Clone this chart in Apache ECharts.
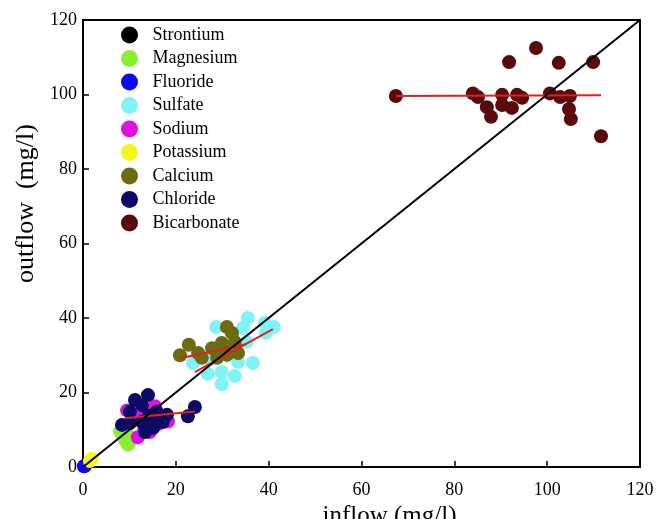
<!DOCTYPE html>
<html>
<head>
<meta charset="utf-8">
<script src="https://cdn.jsdelivr.net/npm/echarts@6/dist/echarts.min.js"></script>
<style>
  html, body { margin: 0; padding: 0; background: #fff; }
  #chart { width: 656px; height: 519px; }
</style>
</head>
<body>
<div id="chart"></div>
<script>
// values, [inflow, outflow] in mg/l
let names = ['Strontium', 'Magnesium', 'Fluoride', 'Sulfate', 'Sodium', 'Potassium', 'Calcium', 'Chloride', 'Bicarbonate']
let colors = ['#000000', '#88f030', '#0a0af5', '#80f4f4', '#e010e0', '#f5f520', '#6b6b12', '#0c0a66', '#5a0a0a']

let strontium = [[0.4, 0.3]]
let magnesium = [[8, 9.5], [8.6, 8.4], [9.2, 7], [9.7, 6], [10.5, 7.4], [9.5, 9]]
let fluoride = [[0.2, 0.2]]
let sulfate = [[28.7, 37.6], [35.5, 40], [39.2, 38.7], [41.1, 37.6], [34.5, 37.3], [35.3, 33.6], [39.4, 36],
  [23.7, 27.9], [26.9, 25], [29.9, 25.5], [32.7, 24.4], [36.6, 27.9], [29.9, 22.2], [33.4, 28.2], [27.5, 29]]
let sodium = [[9.5, 15.2], [11.8, 8], [13.2, 10], [14.4, 9.4], [16.2, 11.5], [18.3, 12.2], [12.2, 14.2], [15.5, 16.3]]
let potassium = [[1.5, 1.6], [1.9, 2.2]]
let calcium = [[20.9, 30], [22.8, 32.8], [24.8, 30.6], [27.8, 31.9], [31, 37.6], [32.1, 36], [32.7, 33.6],
  [25.6, 29.3], [28.9, 29.3], [31, 30.1], [33.4, 30.6], [29.9, 33.3], [30.5, 31.5]]
let chloride = [[14, 19.3], [11.2, 18], [12.7, 16.6], [10.1, 14.8], [15.9, 14.8], [18.1, 14], [24.1, 16.1],
  [22.6, 13.6], [12.7, 12.1], [15.1, 10.5], [17.2, 12.1], [10.1, 11.8], [13.4, 9.4], [8.4, 11.3], [14.2, 13.8], [16.5, 13]]
let bicarbonate = [[67.4, 99.6], [84, 100.3], [85.1, 99.3], [87, 96.6], [87.9, 94], [90.3, 99.9], [90.3, 97.2],
  [91.8, 108.7], [92.4, 96.4], [93.5, 99.9], [94.6, 99.1], [97.6, 112.5], [100.6, 100.3], [102.5, 108.5],
  [102.8, 99.3], [104.9, 99.6], [104.7, 96.1], [105.1, 93.4], [109.9, 108.7], [111.6, 88.8]]

// fitted trend lines
let fitCalcium = [[20.9, 29.2], [35.3, 33]]
let fitSulfate = [[24.1, 25.5], [40.9, 37]]
let fitChloride = [[9, 13.1], [24.1, 14.9]]
let fitBicarbonate = [[67.5, 99.6], [111.6, 99.8]]
let oneToOne = [[0, 0], [120, 120]]

let xTicks = [0, 120, 20]
let yTicks = [0, 120, 20]

let allData = [strontium, magnesium, fluoride, sulfate, sodium, potassium, calcium, chloride, bicarbonate]

let font = 'Liberation Serif, Times New Roman, serif'

function fnScatter(name, data, color) {
  return {
    name: name,
    type: 'scatter',
    data: data,
    symbolSize: 14,
    itemStyle: { color: color, opacity: 1 },
    z: 2
  }
}

function fnLine(data, color, width) {
  return {
    type: 'line',
    data: data,
    symbol: 'none',
    silent: true,
    lineStyle: { color: color, width: width },
    z: 5
  }
}

let series = []
for (let i = 0; i < names.length; i++) {
  series.push(fnScatter(names[i], allData[i], colors[i]))
}
series.push(fnLine(fitCalcium, '#e02020', 2))
series.push(fnLine(fitSulfate, '#e02020', 2))
series.push(fnLine(fitChloride, '#e02020', 2))
series.push(fnLine(fitBicarbonate, '#e02020', 2))
let s11 = fnLine(oneToOne, '#000', 2)
s11.z = 6
s11.markPoint = {
  symbol: 'none',
  data: [{
    coord: [58.6, 62.8],
    label: {
      show: true,
      formatter: '1:1',
      rotate: 38.7,
      fontFamily: font,
      fontSize: 18,
      color: '#000'
    }
  }]
}
series.push(s11)

let chart = echarts.init(document.getElementById('chart'), null, { renderer: 'canvas' })

let axisCommon = {
  type: 'value',
  splitLine: { show: false },
  axisLine: { show: true, onZero: false, lineStyle: { color: '#000', width: 2 } },
  axisTick: { show: true, inside: true, length: 6, lineStyle: { color: '#000', width: 1.5 } },
  axisLabel: { color: '#000', fontFamily: font, fontSize: 18 }
}

chart.setOption({
  animation: false,
  backgroundColor: '#fff',
  grid: {
    left: 83, right: 16, top: 20, bottom: 52,
    outerBoundsMode: 'none',
    containLabel: false,
    show: true, borderColor: '#000', borderWidth: 2
  },
  legend: {
    data: names,
    orient: 'vertical',
    left: 116,
    top: 21,
    itemGap: 5.5,
    itemWidth: 18,
    itemHeight: 17,
    icon: 'circle',
    textStyle: { color: '#000', fontFamily: font, fontSize: 18, lineHeight: 18, padding: [0, 0, 0, 9] }
  },
  xAxis: Object.assign({}, axisCommon, {
    min: xTicks[0], max: xTicks[1], interval: xTicks[2],
    name: 'inflow (mg/l)',
    nameLocation: 'middle',
    nameGap: 30,
    nameTextStyle: { color: '#000', fontFamily: font, fontSize: 25, padding: [0, 0, 0, 56] },
    axisLabel: Object.assign({}, axisCommon.axisLabel, { margin: 14 })
  }),
  yAxis: Object.assign({}, axisCommon, {
    min: yTicks[0], max: yTicks[1], interval: yTicks[2],
    name: 'outflow  (mg/l)',
    nameLocation: 'middle',
    nameGap: 40,
    nameTextStyle: { color: '#000', fontFamily: font, fontSize: 26, padding: [0, 0, 0, 80] },
    axisLabel: Object.assign({}, axisCommon.axisLabel, { margin: 6 })
  }),
  series: series
})
</script>
</body>
</html>
